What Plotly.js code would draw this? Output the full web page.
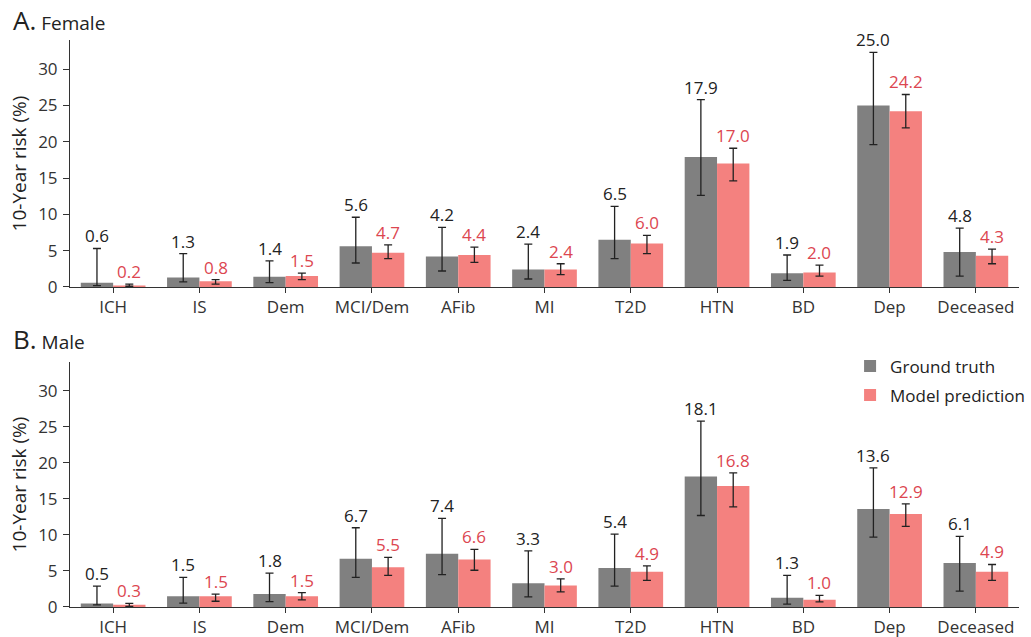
<!DOCTYPE html>
<html>
<head>
<meta charset="utf-8">
<script src="https://cdn.plot.ly/plotly-3.0.1.min.js"></script>
<style>html,body{margin:0;padding:0;background:#fff;}#chart{width:1031px;height:637px;}</style>
</head>
<body>
<div id="chart"></div>
<script>
// ---- data ----
const categories = ['ICH','IS','Dem','MCI/Dem','AFib','MI','T2D','HTN','BD','Dep','Deceased'];
const tickValues = [0,5,10,15,20,25,30];

const femaleTruth     = [0.6,1.3,1.4,5.6,4.2,2.4,6.5,17.9,1.9,25.0,4.8];
const femaleTruthLow  = [0.2,0.7,0.6,3.3,2.2,1.1,3.9,12.6,0.9,19.6,1.5];
const femaleTruthHigh = [5.3,4.6,3.6,9.6,8.2,5.9,11.1,25.8,4.4,32.3,8.1];
const femalePred      = [0.2,0.8,1.5,4.7,4.4,2.4,6.0,17.0,2.0,24.2,4.3];
const femalePredLow   = [0.1,0.4,1.0,3.9,3.4,1.7,4.6,14.6,1.5,21.9,3.2];
const femalePredHigh  = [0.4,1.0,1.9,5.8,5.5,3.2,7.1,19.1,3.0,26.5,5.2];

const maleTruth     = [0.5,1.5,1.8,6.7,7.4,3.3,5.4,18.1,1.3,13.6,6.1];
const maleTruthLow  = [0.3,0.55,0.74,4.1,4.5,1.4,2.9,12.7,0.4,9.7,2.2];
const maleTruthHigh = [2.9,4.1,4.7,11.0,12.3,7.8,10.1,25.8,4.4,19.3,9.8];
const malePred      = [0.3,1.5,1.5,5.5,6.6,3.0,4.9,16.8,1.0,12.9,4.9];
const malePredLow   = [0.1,0.8,1.0,4.4,5.1,2.1,3.7,13.9,0.7,11.2,3.7];
const malePredHigh  = [0.5,1.8,2.0,6.9,8.0,3.9,5.7,18.6,1.6,14.3,5.9];

// ---- style ----
const FONT = 'Open Sans, Noto Sans, DejaVu Sans, sans-serif';
const GRAY = '#808080', PINK = '#f4817f', RED = '#dc4650', DARK = '#222222';
const BAR_W = 0.375;

function barTrace(name, vals, lo, hi, color, xa, ya, showleg, off) {
  return {
    type: 'bar', name: name, x: categories, y: vals,
    xaxis: xa, yaxis: ya, marker: {color: color, line: {width: 0}},
    width: BAR_W, offset: off,
    legendgroup: name, showlegend: showleg,
    error_y: {type: 'data', symmetric: false,
      array: hi.map((h, i) => h - vals[i]),
      arrayminus: lo.map((l, i) => vals[i] - l),
      color: DARK, thickness: 1.3, width: 4},
    hoverinfo: 'y'
  };
}

const data = [
  barTrace('Ground truth', femaleTruth, femaleTruthLow, femaleTruthHigh, GRAY, 'x', 'y', false, -BAR_W),
  barTrace('Model prediction', femalePred, femalePredLow, femalePredHigh, PINK, 'x', 'y', false, 0),
  barTrace('Ground truth', maleTruth, maleTruthLow, maleTruthHigh, GRAY, 'x2', 'y2', true, -BAR_W),
  barTrace('Model prediction', malePred, malePredLow, malePredHigh, PINK, 'x2', 'y2', true, 0)
];

const annotations = [];
function addLabels(vals, hi, xref, yref, shift, color) {
  vals.forEach((v, i) => {
    annotations.push({
      xref: xref, yref: yref, x: i + shift, y: hi[i],
      text: v.toFixed(1), showarrow: false, yanchor: 'bottom', xanchor: 'center',
      font: {family: FONT, size: 17, color: color}, borderpad: 0
    });
  });
}
addLabels(femaleTruth, femaleTruthHigh, 'x', 'y', -BAR_W / 2, DARK);
addLabels(femalePred, femalePredHigh, 'x', 'y', BAR_W / 2, RED);
addLabels(maleTruth, maleTruthHigh, 'x2', 'y2', -BAR_W / 2, DARK);
addLabels(malePred, malePredHigh, 'x2', 'y2', BAR_W / 2, RED);

annotations.push({xref: 'paper', yref: 'paper', x: -0.062, y: 1.036, xanchor: 'left', yanchor: 'middle',
  showarrow: false, text: '<span style="font-size:26px">A.</span> Female',
  font: {family: FONT, size: 19, color: '#222'}});
annotations.push({xref: 'paper', yref: 'paper', x: -0.062, y: 0.472, xanchor: 'left', yanchor: 'middle',
  showarrow: false, text: '<span style="font-size:26px">B.</span> Male',
  font: {family: FONT, size: 19, color: '#222'}});

function xAxis(anchor) {
  return {anchor: anchor, type: 'category', range: [-0.5, 10.5], showline: true, linecolor: '#333', linewidth: 1,
    ticks: 'outside', ticklen: 5, tickcolor: '#333', showgrid: false, zeroline: false,
    tickfont: {family: FONT, size: 17, color: '#333'}, automargin: false, fixedrange: true};
}
function yAxis(anchor, domain) {
  return {anchor: anchor, domain: domain, range: [0, 34], tickvals: tickValues, showline: true, linecolor: '#333',
    linewidth: 1, ticks: 'outside', ticklen: 6, tickcolor: '#333', showgrid: false, zeroline: false,
    tickfont: {family: FONT, size: 17, color: '#333'}, automargin: false, ticklabelstandoff: 2,
    title: {text: '10-Year risk (%)', font: {family: FONT, size: 19, color: '#222'}, standoff: 6}};
}

const layout = {
  width: 1031, height: 637,
  margin: {l: 70, r: 1, t: 40, b: 30},
  paper_bgcolor: '#fff', plot_bgcolor: '#fff',
  barmode: 'overlay',
  font: {family: FONT, color: '#222'},
  xaxis: Object.assign(xAxis('y'), {domain: [0, 1]}),
  yaxis: yAxis('x', [0.5644, 1.0]),
  xaxis2: Object.assign(xAxis('y2'), {domain: [0, 1]}),
  yaxis2: yAxis('x2', [0, 0.4321]),
  showlegend: true,
  legend: {x: 0.822, y: 0.456, xanchor: 'left', yanchor: 'top', bgcolor: 'rgba(0,0,0,0)',
    font: {family: FONT, size: 17, color: '#222'}, traceorder: 'grouped', tracegroupgap: 4, itemwidth: 30},
  annotations: annotations
};

Plotly.newPlot('chart', data, layout, {displayModeBar: false, staticPlot: true});
</script>
</body>
</html>
